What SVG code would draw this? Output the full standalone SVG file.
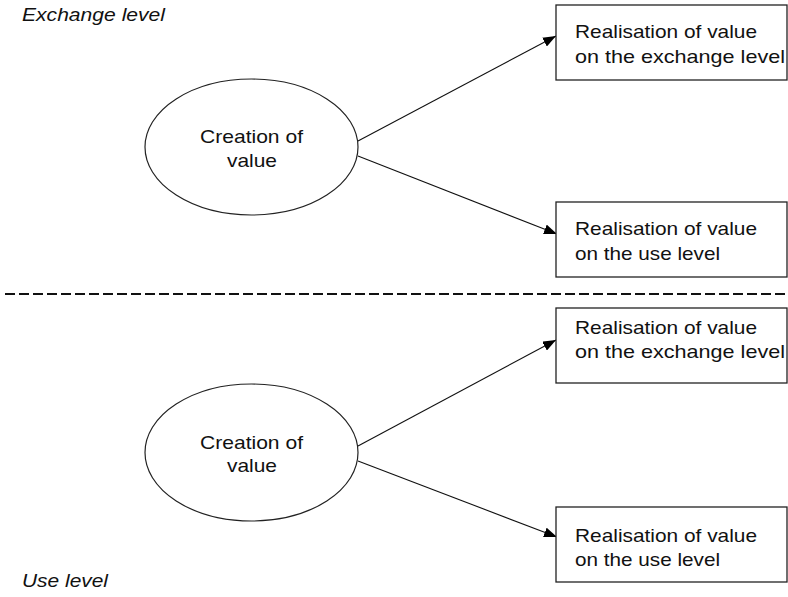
<svg xmlns="http://www.w3.org/2000/svg" width="788" height="597" viewBox="0 0 788 597">
  <defs>
    <marker id="arrow" markerWidth="13" markerHeight="10" refX="13" refY="5" orient="auto" markerUnits="userSpaceOnUse">
      <path d="M0,0 L13,5 L0,10 z" fill="#000"/>
    </marker>
    <style>
      text { font-family: "Liberation Sans", Arial, sans-serif; font-size: 19px; fill: #111; }
      .level { font-style: italic; }
      .mid { text-anchor: middle; }
      .box { fill: #fff; stroke: #222; stroke-width: 1.3; }
      .oval { fill: #fff; stroke: #222; stroke-width: 1.2; }
      .conn line { stroke: #111; stroke-width: 1.1; marker-end: url(#arrow); }
    </style>
  </defs>
  <rect width="788" height="597" fill="#fff"/>

  <!-- level labels -->
  <text class="level" x="22" y="21" textLength="143" lengthAdjust="spacingAndGlyphs">Exchange level</text>
  <text class="level" x="22" y="587" textLength="86" lengthAdjust="spacingAndGlyphs">Use level</text>

  <!-- divider between levels -->
  <line x1="5" y1="294" x2="788" y2="294" stroke="#111" stroke-width="2.2" stroke-dasharray="10 4"/>

  <!-- connectors -->
  <g id="connectors" class="conn">
    <line x1="358" y1="141" x2="556" y2="36"/>
    <line x1="358" y1="156" x2="557" y2="234"/>
    <line x1="358" y1="446" x2="556" y2="340"/>
    <line x1="358" y1="461" x2="557" y2="537"/>
  </g>

  <!-- exchange level -->
  <g id="creation-exchange">
    <ellipse class="oval" cx="251.5" cy="147" rx="106.5" ry="68"/>
    <text class="mid" x="251.5" y="143" textLength="103" lengthAdjust="spacingAndGlyphs">Creation of</text>
    <text class="mid" x="252" y="167" textLength="50" lengthAdjust="spacingAndGlyphs">value</text>
  </g>
  <g id="realisation-exchange-1">
    <rect class="box" x="556" y="5" width="231" height="75"/>
    <text x="575" y="38" textLength="182" lengthAdjust="spacingAndGlyphs">Realisation of value</text>
    <text x="575" y="63" textLength="210" lengthAdjust="spacingAndGlyphs">on the exchange level</text>
  </g>
  <g id="realisation-use-1">
    <rect class="box" x="556" y="202" width="231" height="75"/>
    <text x="575" y="235" textLength="182" lengthAdjust="spacingAndGlyphs">Realisation of value</text>
    <text x="575" y="260" textLength="145" lengthAdjust="spacingAndGlyphs">on the use level</text>
  </g>

  <!-- use level -->
  <g id="creation-use">
    <ellipse class="oval" cx="251.5" cy="452.5" rx="106.5" ry="68.5"/>
    <text class="mid" x="251.5" y="449" textLength="103" lengthAdjust="spacingAndGlyphs">Creation of</text>
    <text class="mid" x="252" y="472" textLength="50" lengthAdjust="spacingAndGlyphs">value</text>
  </g>
  <g id="realisation-exchange-2">
    <rect class="box" x="556" y="308" width="231" height="75"/>
    <text x="575" y="334" textLength="182" lengthAdjust="spacingAndGlyphs">Realisation of value</text>
    <text x="575" y="358" textLength="210" lengthAdjust="spacingAndGlyphs">on the exchange level</text>
  </g>
  <g id="realisation-use-2">
    <rect class="box" x="556" y="507" width="231" height="75"/>
    <text x="575" y="542" textLength="182" lengthAdjust="spacingAndGlyphs">Realisation of value</text>
    <text x="575" y="566" textLength="145" lengthAdjust="spacingAndGlyphs">on the use level</text>
  </g>
</svg>
